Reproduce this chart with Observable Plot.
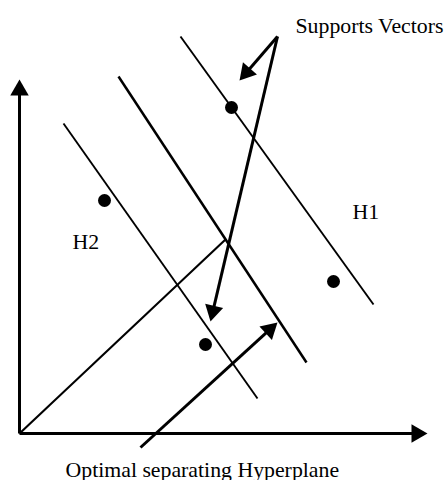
<!DOCTYPE html>
<html><head><meta charset="utf-8">
<script src="https://cdn.jsdelivr.net/npm/d3@7"></script>
<script src="https://cdn.jsdelivr.net/npm/@observablehq/plot@0.6"></script>
<style>body{margin:0;background:#fff}</style>
</head><body><div id="chart"></div>
<script>
// Diagram coordinates: origin of the axes at (0,0), y pointing up.
const axisX1 = [0, 0];
const axisY1 = [0, 0];
const axisX2 = [408, 0];
const axisY2 = [0, 354];

const lineNames = ["H1", "hyperplane", "H2", "diagonal"];
const lineX1 = [161, 99, 44, 0];
const lineY1 = [397, 357, 310, 0];
const lineX2 = [354, 287, 238, 206];
const lineY2 = [129, 71, 35, 194];
const lineWidth = [1.9, 2.5, 1.9, 2.1];

const pointX = [212, 85, 314, 186];
const pointY = [326, 233, 152, 89];

const arrowX1 = [258, 258, 121];
const arrowY1 = [397, 397, -14];
const arrowX2 = [220, 191, 258];
const arrowY2 = [353, 112, 111];

const labels = ["Supports Vectors", "H1", "H2", "Optimal separating Hyperplane"];
const labelX = [276, 333, 53, 46];
const labelY = [401, 215, 185, -43];

// build tables
const lines = lineNames.map((n, i) => ({name: n, x1: lineX1[i], y1: lineY1[i], x2: lineX2[i], y2: lineY2[i], w: lineWidth[i]}));
const points = pointX.map((x, i) => ({x, y: pointY[i]}));
const texts = labels.map((t, i) => ({t, x: labelX[i], y: labelY[i]}));

const headH = 16;
function makeArrow(x1, y1, x2, y2) {
  const dx = x2 - x1, dy = y2 - y1, L = Math.hypot(dx, dy);
  const ux = dx / L, uy = dy / L;
  return {
    x1, y1,
    sx: x2 - ux * headH * 0.5, sy: y2 - uy * headH * 0.5,
    hx: x2 - ux * headH * 2 / 3, hy: y2 - uy * headH * 2 / 3,
    angle: Math.atan2(ux, uy) * 180 / Math.PI
  };
}
const axisArrows = axisX1.map((_, i) => makeArrow(axisX1[i], axisY1[i], axisX2[i], axisY2[i]));
const pointerArrows = arrowX1.map((_, i) => makeArrow(arrowX1[i], arrowY1[i], arrowX2[i], arrowY2[i]));
const allArrows = axisArrows.concat(pointerArrows);
const ty = headH / 3;
const headR = Math.sqrt(3 * Math.sqrt(3) * ty * ty / Math.PI);

const chart = Plot.plot({
  width: 444,
  height: 480,
  margin: 0,
  x: {domain: [-19, 425], axis: null},
  y: {domain: [-47, 433], axis: null},
  marks: [
    Plot.link(lines, {x1: "x1", y1: "y1", x2: "x2", y2: "y2", stroke: "black", strokeWidth: d => d.w}),
    Plot.link(allArrows, {x1: "x1", y1: "y1", x2: "sx", y2: "sy", stroke: "black", strokeWidth: 3}),
    Plot.dot(allArrows, {x: "hx", y: "hy", symbol: "triangle", r: headR, rotate: "angle", fill: "black", stroke: "none"}),
    Plot.dot(points, {x: "x", y: "y", r: 6.5, fill: "black", stroke: "none"}),
    Plot.text(texts, {x: "x", y: "y", text: "t", textAnchor: "start", lineAnchor: "bottom", fontFamily: "Liberation Serif", fontSize: 21.8, fill: "black"})
  ]
});
document.getElementById("chart").appendChild(chart);
</script>
</body></html>
